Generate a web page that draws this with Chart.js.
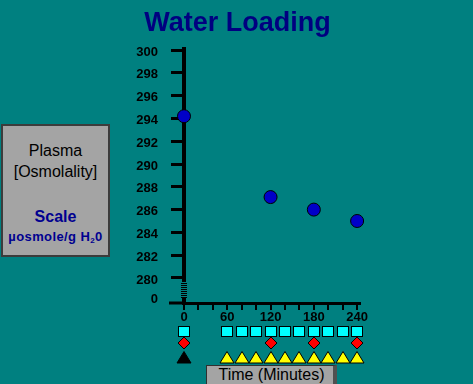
<!DOCTYPE html>
<html>
<head>
<meta charset="utf-8">
<script src="https://cdn.jsdelivr.net/npm/chart.js@4/dist/chart.umd.min.js"></script>
<style>
  body { margin: 0; background: #008080; font-family: "Liberation Sans", Arial, sans-serif; }
  #wrap { position: relative; width: 473px; height: 384px; overflow: hidden; }
  canvas { position: absolute; left: 0; top: 0; }
  .txt { position: absolute; white-space: nowrap; text-align: center; }
  #title { left: 0; width: 475px; top: 9px; font-size: 27px; line-height: 27px; font-weight: bold; color: #000080; }
  #legendBox { position: absolute; left: 1px; top: 124px; width: 105px; height: 129px; background: #a4a4a4; border: 2px solid #3c3c3c; }
  .boxTxt { left: 1px; width: 109px; }
  #timeBox { position: absolute; left: 206px; top: 365px; width: 126px; height: 24px; background: #a4a4a4; border: 1px solid #303030; border-right: 4px solid #505050; }
  #timeTxt { left: 206px; width: 131px; top: 367px; font-size: 16px; line-height: 16px; color: #000; }
</style>
</head>
<body>
<div id="wrap">
  <canvas id="chart" width="473" height="384"></canvas>
  <div id="title" class="txt">Water Loading</div>
  <div id="legendBox"></div>
  <div class="txt boxTxt" style="top:143px;font-size:16px;line-height:16px;color:#000;">Plasma</div>
  <div class="txt boxTxt" style="top:164px;font-size:16px;line-height:16px;color:#000;">[Osmolality]</div>
  <div class="txt boxTxt" style="top:209px;font-size:16px;line-height:16px;font-weight:bold;color:#000090;">Scale</div>
  <div class="txt boxTxt" style="top:230px;font-size:13px;line-height:13px;font-weight:bold;letter-spacing:0.4px;color:#000090;">µosmole/g H<span style="font-size:8px;vertical-align:-2px;">2</span>0</div>
  <div id="timeBox"></div>
  <div id="timeTxt" class="txt">Time (Minutes)</div>
</div>
<script>
// 血漿浸透圧（Water Loading）
const times = [0, 120, 180, 240];
const osmolality = [294.2, 287.1, 286.0, 285.0];

// y 軸は 280 の下で切れていて、一番下の目盛りは「0」
const yTicks = [278.3, 280, 282, 284, 286, 288, 290, 292, 294, 296, 298, 300];
const yTickLabels = ['0', '280', '282', '284', '286', '288', '290', '292', '294', '296', '298', '300'];
const xTicks = [0, 20, 40, 60, 80, 100, 120, 140, 160, 180, 200, 220, 240];
const xTickLabels = ['0', '', '', '60', '', '', '120', '', '', '180', '', '', '240'];

// 軸の下の採取スケジュール記号
const squareTimes = [0, 60, 80, 100, 120, 140, 160, 180, 200, 220, 240];
const diamondTimes = [0, 120, 180, 240];
const blackTriangleTimes = [0];
const yellowTriangleTimes = [60, 80, 100, 120, 140, 160, 180, 200, 220, 240];

const FONT = '"Liberation Sans", Arial, sans-serif';
const TEAL = '#008080';

// 軸の切れ目・x 軸の左への延長・採取記号
const extrasPlugin = {
    id: 'extras',
    afterDraw(chart) {
        const { ctx, scales, chartArea } = chart;
        const x0 = scales.x.getPixelForValue(0);
        const base = chartArea.bottom;
        ctx.save();
        // x 軸の線は 0 より少し左から始まる
        ctx.fillStyle = '#000';
        ctx.fillRect(x0 - 15, base - 1.5, 15, 3);

        const yTop = Math.round(scales.y.getPixelForValue(279.6));
        const yBot = Math.round(scales.y.getPixelForValue(278.2));
        ctx.fillStyle = TEAL;
        ctx.fillRect(x0 - 3, yTop, 7, yBot - yTop);
        ctx.fillStyle = '#000';
        for (let y = yTop + 1; y < yBot; y += 2) ctx.fillRect(x0 - 3, y, 6, 1);

        ctx.lineWidth = 1;
        ctx.strokeStyle = '#000';
        squareTimes.forEach(t => {
            const x = Math.round(scales.x.getPixelForValue(t));
            ctx.fillStyle = '#00ffff';
            ctx.fillRect(x - 6, base + 23, 12, 11);
            ctx.strokeRect(x - 5.5, base + 23.5, 11, 10);
        });
        diamondTimes.forEach(t => {
            const x = Math.round(scales.x.getPixelForValue(t));
            const cy = base + 40;
            ctx.beginPath();
            ctx.moveTo(x, cy - 6);
            ctx.lineTo(x + 6, cy);
            ctx.lineTo(x, cy + 6);
            ctx.lineTo(x - 6, cy);
            ctx.closePath();
            ctx.fillStyle = '#ff0000';
            ctx.fill();
            ctx.stroke();
        });
        const tri = (t, color) => {
            const x = Math.round(scales.x.getPixelForValue(t));
            ctx.beginPath();
            ctx.moveTo(x, base + 48.5);
            ctx.lineTo(x + 7, base + 60);
            ctx.lineTo(x - 7, base + 60);
            ctx.closePath();
            ctx.fillStyle = color;
            ctx.fill();
            ctx.stroke();
        };
        blackTriangleTimes.forEach(t => tri(t, '#000'));
        yellowTriangleTimes.forEach(t => tri(t, '#ffff00'));
        ctx.restore();
    },
};

new Chart(document.getElementById('chart'), {
    type: 'scatter',
    data: {
        datasets: [{
            data: times.map((t, i) => ({ x: t, y: osmolality[i] })),
            pointRadius: 6.5,
            pointBackgroundColor: '#0000c8',
            pointBorderColor: '#000',
            pointBorderWidth: 1,
            clip: false,
        }],
    },
    options: {
        responsive: false,
        animation: false,
        layout: { padding: { left: 124, right: 113, top: 49, bottom: 53 } },
        plugins: { legend: { display: false }, tooltip: { enabled: false } },
        scales: {
            x: {
                type: 'linear',
                min: 0,
                max: 244,
                position: 'bottom',
                afterBuildTicks: s => { s.ticks = xTicks.map(v => ({ value: v })); },
                afterFit: s => { s.height = 28; },
                border: { display: true, color: '#000', width: 3 },
                grid: { drawOnChartArea: false, drawTicks: true, tickLength: 7, color: '#000', lineWidth: 2 },
                ticks: {
                    autoSkip: false,
                    maxRotation: 0,
                    padding: 0,
                    color: '#000',
                    font: { family: FONT, size: 13, weight: 'bold' },
                    callback: (v, i) => xTickLabels[i],
                },
            },
            y: {
                type: 'linear',
                min: 277.8,
                max: 300.1,
                position: 'left',
                afterBuildTicks: s => { s.ticks = yTicks.map(v => ({ value: v })); },
                afterFit: s => { s.width = 60; },
                border: { display: true, color: '#000', width: 4 },
                grid: {
                    drawOnChartArea: false,
                    drawTicks: true,
                    tickLength: 13,
                    lineWidth: 3,
                    color: c => (c.index === 0 ? 'rgba(0,0,0,0)' : '#000'),
                },
                ticks: {
                    autoSkip: false,
                    padding: 13,
                    labelOffset: 2,
                    color: '#000',
                    font: { family: FONT, size: 13, weight: 'bold' },
                    callback: (v, i) => yTickLabels[i],
                },
            },
        },
    },
    plugins: [extrasPlugin],
});
</script>
</body>
</html>
